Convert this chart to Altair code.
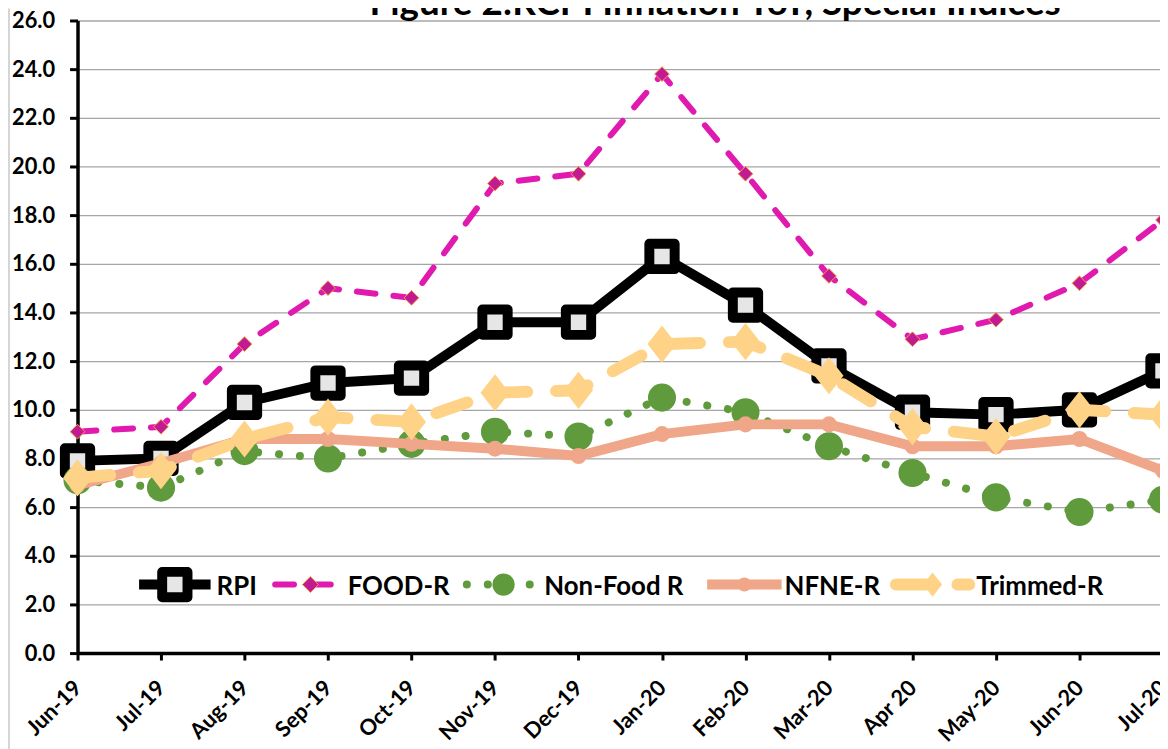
import altair as alt
import pandas as pd

# ---------------- data ----------------
months = ["Jun-19", "Jul-19", "Aug-19", "Sep-19", "Oct-19", "Nov-19", "Dec-19",
          "Jan-20", "Feb-20", "Mar-20", "Apr 20", "May-20", "Jun-20", "Jul-20"]
rpi = [7.9, 8.0, 10.3, 11.1, 11.3, 13.6, 13.6, 16.3, 14.3, 11.8, 9.9, 9.8, 10.0, 11.6]
food_r = [9.1, 9.3, 12.7, 15.0, 14.6, 19.3, 19.7, 23.8, 19.7, 15.5, 12.9, 13.7, 15.2, 17.8]
non_food_r = [7.1, 6.8, 8.3, 8.0, 8.6, 9.1, 8.9, 10.5, 9.9, 8.5, 7.4, 6.4, 5.8, 6.3]
nfne_r = [6.9, 7.8, 8.8, 8.8, 8.6, 8.4, 8.1, 9.0, 9.4, 9.4, 8.5, 8.5, 8.8, 7.5]
trimmed_r = [7.2, 7.5, 8.8, 9.7, 9.5, 10.7, 10.8, 12.7, 12.8, 11.4, 9.3, 8.9, 10.0, 9.8]

series_names = ["RPI", "FOOD-R", "Non-Food R", "NFNE-R", "Trimmed-R"]
series_values = [rpi, food_r, non_food_r, nfne_r, trimmed_r]
y_ticks = [0, 2, 4, 6, 8, 10, 12, 14, 16, 18, 20, 22, 24, 26]
title_text = "Figure 2:RCPI Inflation YoY, Special Indices"

FONT = "Lato"

# ---------------- styles ----------------
diamond_tall = "M0,-1L0.78,0L0,1L-0.78,0Z"
styles = {
    "RPI": dict(line=dict(color="#000000", strokeWidth=10),
                point=dict(shape="square", size=650, fill="#E6E6E6", stroke="#000000",
                           strokeWidth=10, strokeJoin="round", filled=True, opacity=1),
                leg=(62, 134, 140), legsize=650),
    "FOOD-R": dict(line=dict(color="#E01AAE", strokeWidth=6, strokeDash=[19, 18], strokeCap="round"),
                   point=dict(shape="diamond", size=220, fill="#C21A93", stroke="#F0A040",
                              strokeWidth=1, filled=True, opacity=1),
                   leg=(199, 270, 272), legsize=260),
    "Non-Food R": dict(line=dict(color="#5F9B3C", strokeWidth=8, strokeDash=[0.1, 21], strokeCap="round"),
                       point=dict(shape="circle", size=800, fill="#5F9B3C", filled=True, opacity=1),
                       leg=(392, 466, 470), legsize=500),
    "NFNE-R": dict(line=dict(color="#F0A688", strokeWidth=10),
                   point=dict(shape="circle", size=260, fill="#F0A688", filled=True, opacity=1),
                   leg=(634, 709, 712), legsize=200),
    "Trimmed-R": dict(line=dict(color="#FFD387", strokeWidth=12, strokeDash=[33, 29], strokeCap="round"),
                      point=dict(shape=diamond_tall, size=1400, fill="#FFD387", filled=True, opacity=1),
                      leg=(824, 898, 905), legsize=600),
}

W, H = 1090, 637

x_enc = alt.X("month:O", sort=months,
              scale=alt.Scale(type="point", padding=0, range=[0, 1093]),
              axis=alt.Axis(title=None, labelAngle=-45, labelAlign="right", labelBaseline="middle",
                            labelFont=FONT, labelFontWeight="bold", labelFontSize=22, labelColor="#000",
                            labelPadding=24, domainColor="#000", domainWidth=3.5, tickColor="#000",
                            tickWidth=3, tickSize=7, grid=False, labelOverlap=False))
y_enc = alt.Y("value:Q",
              scale=alt.Scale(domain=[0, 26], nice=False, zero=True),
              axis=alt.Axis(title=None, values=y_ticks, format=".1f", labelFont=FONT,
                            labelFontWeight="bold", labelFontSize=22, labelColor="#000",
                            labelPadding=15, domainColor="#000", domainWidth=3.5,
                            tickColor="#000", tickWidth=3, tickSize=8,
                            grid=True, gridColor="#A6A6A6", gridWidth=1.3))

layers = []

# chart-area left border
border = alt.Chart(pd.DataFrame({"a": [0]})).mark_rule(color="#C8C8C8", strokeWidth=1.5).encode(
    x=alt.value(-69), y=alt.value(-12), y2=alt.value(H + 100))
layers.append(border)

for name, vals in zip(series_names, series_values):
    df = pd.DataFrame({"month": months, "value": vals, "series": name})
    st = styles[name]
    base = alt.Chart(df)
    layers.append(base.mark_line(**st["line"]).encode(x=x_enc, y=y_enc))
    layers.append(base.mark_point(**st["point"]).encode(x=x_enc, y=y_enc))

# legend (built by hand inside the plot area)
LEG_Y = 568
for name in series_names:
    st = styles[name]
    x0, x1, tx = st["leg"]
    one = alt.Chart(pd.DataFrame({"series": [name]}))
    layers.append(one.mark_rule(**st["line"]).encode(
        x=alt.value(x0), x2=alt.value(x1), y=alt.value(LEG_Y)))
    pstyle = dict(st["point"])
    pstyle["size"] = st["legsize"]
    layers.append(one.mark_point(**pstyle).encode(
        x=alt.value((x0 + x1) / 2), y=alt.value(LEG_Y)))
    layers.append(one.mark_text(align="left", baseline="alphabetic", font=FONT, fontWeight="bold",
                                fontSize=26, color="#000").encode(
        text="series:N", x=alt.value(tx), y=alt.value(LEG_Y + 10)))

# title (cut off at top like the reference)
title_layer = alt.Chart(pd.DataFrame({"t": [title_text]})).mark_text(
    align="center", baseline="alphabetic", font=FONT, fontWeight="bold", fontSize=37, color="#000"
).encode(text="t:N", x=alt.value(642), y=alt.value(-6))
layers.append(title_layer)

chart = alt.layer(*layers).properties(
    width=W, height=H,
    padding={"left": 70, "top": 10, "right": 0, "bottom": 94},
    autosize=alt.AutoSizeParams(type="none"),
    background="white",
).configure_view(strokeWidth=0)

chart.save("out.html", embed_options={"renderer": "svg", "actions": False})
